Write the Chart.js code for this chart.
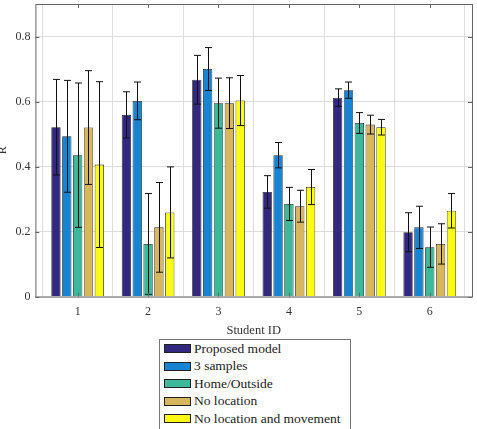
<!DOCTYPE html>
<html>
<head>
<meta charset="utf-8">
<script src="https://cdn.jsdelivr.net/npm/chart.js@4.4.0/dist/chart.umd.min.js"></script>
<style>
body { margin: 0; background: #fff; }
#wrap { position: relative; width: 477px; height: 429px; overflow: hidden; }
#legend {
    position: absolute; left: 159px; top: 339px; width: 190px; height: 100px;
    border: 1px solid #777; background: #fff;
    font-family: "Liberation Serif", serif; font-size: 13.5px; color: #222;
}
#legend div { height: 17.4px; line-height: 17.4px; white-space: nowrap; }
#legend span.sw {
    display: inline-block; width: 25px; height: 7px; border: 1px solid #222;
    margin: 0 3px 0 4px; vertical-align: middle; position: relative; top: -1px;
}
</style>
</head>
<body>
<div id="wrap">
<canvas id="myChart" width="477" height="429"></canvas>
<div id="legend"></div>
</div>
<script>
var studentIds = [1, 2, 3, 4, 5, 6];
var seriesNames = ['Proposed model', '3 samples', 'Home/Outside', 'No location', 'No location and movement'];
var colors = ['#33287f', '#1683d3', '#3bb99a', '#d8b65c', '#fafa12'];

var proposed    = [0.521, 0.559, 0.667, 0.322, 0.612, 0.198];
var threeSample = [0.493, 0.602, 0.700, 0.435, 0.635, 0.213];
var homeOutside = [0.435, 0.162, 0.595, 0.285, 0.534, 0.152];
var noLocation  = [0.520, 0.213, 0.595, 0.278, 0.529, 0.162];
var noLocMove   = [0.406, 0.259, 0.603, 0.337, 0.521, 0.264];

var errProposed    = [0.147, 0.071, 0.075, 0.050, 0.027, 0.060];
var errThreeSample = [0.172, 0.058, 0.066, 0.039, 0.025, 0.065];
var errHomeOutside = [0.222, 0.155, 0.077, 0.051, 0.032, 0.062];
var errNoLocation  = [0.175, 0.138, 0.078, 0.049, 0.029, 0.062];
var errNoLocMove   = [0.255, 0.140, 0.077, 0.054, 0.024, 0.053];

var yTicks = [0, 0.2, 0.4, 0.6, 0.8];

var values = [proposed, threeSample, homeOutside, noLocation, noLocMove];
var errors = [errProposed, errThreeSample, errHomeOutside, errNoLocation, errNoLocMove];

var FONT = '"Liberation Serif", serif';

var datasets = values.map(function (vals, i) {
    return {
        label: seriesNames[i],
        data: vals.map(function (v, j) { return { x: studentIds[j], y: v }; }),
        errors: errors[i],
        backgroundColor: colors[i],
        borderColor: '#222',
        borderWidth: 0.8,
        categoryPercentage: 0.77,
        barPercentage: 0.86
    };
});

// error bars, drawn from the bar elements and the y scale
var errorBars = {
    id: 'errorBars',
    afterDatasetsDraw: function (chart) {
        var ctx = chart.ctx;
        var yScale = chart.scales.y;
        ctx.save();
        ctx.strokeStyle = '#111';
        ctx.lineWidth = 1;
        chart.data.datasets.forEach(function (ds, i) {
            var meta = chart.getDatasetMeta(i);
            meta.data.forEach(function (bar, j) {
                var v = ds.data[j].y, e = ds.errors[j];
                var top = yScale.getPixelForValue(v + e);
                var bot = yScale.getPixelForValue(Math.max(v - e, 0));
                var x = Math.round(bar.x) + 0.5;
                ctx.beginPath();
                ctx.moveTo(x, top); ctx.lineTo(x, bot);
                ctx.moveTo(x - 3.5, top); ctx.lineTo(x + 3.5, top);
                ctx.moveTo(x - 3.5, bot); ctx.lineTo(x + 3.5, bot);
                ctx.stroke();
            });
        });
        ctx.restore();
    }
};

// box around the axes with small inward ticks
var axesBox = {
    id: 'axesBox',
    afterDraw: function (chart) {
        var a = chart.chartArea, ctx = chart.ctx;
        var xs = chart.scales.x, ys = chart.scales.y;
        ctx.save();
        ctx.strokeStyle = '#666';
        ctx.lineWidth = 1;
        ctx.strokeRect(a.left + 0.5, a.top + 0.5, a.right - a.left, a.bottom - a.top);
        ctx.beginPath();
        yTicks.forEach(function (v) {
            var y = Math.round(ys.getPixelForValue(v)) + 0.5;
            ctx.moveTo(a.left, y); ctx.lineTo(a.left + 4, y);
            ctx.moveTo(a.right, y); ctx.lineTo(a.right - 4, y);
        });
        studentIds.forEach(function (v) {
            var x = Math.round(xs.getPixelForValue(v)) + 0.5;
            ctx.moveTo(x, a.bottom); ctx.lineTo(x, a.bottom - 4);
            ctx.moveTo(x, a.top); ctx.lineTo(x, a.top + 4);
        });
        ctx.stroke();
        ctx.restore();
    }
};

var ctx1 = document.getElementById('myChart').getContext('2d');
var myChart = new Chart(ctx1, {
    type: 'bar',
    data: { datasets: datasets },
    options: {
        responsive: false,
        animation: false,
        layout: { padding: { left: -4, top: 4, right: 5, bottom: 91 } },
        plugins: {
            legend: { display: false },
            tooltip: { enabled: false }
        },
        scales: {
            x: {
                type: 'linear',
                min: 0.4,
                max: 6.6,
                offset: false,
                afterBuildTicks: function (axis) {
                    axis.ticks = studentIds.map(function (v) { return { value: v }; });
                },
                grid: { color: '#dcdcdc', drawTicks: false },
                border: { display: false },
                ticks: { font: { family: FONT, size: 12 }, color: '#333', padding: 8 },
                title: { display: true, text: 'Student ID', font: { family: FONT, size: 12.5 }, color: '#333', padding: { top: -4, bottom: 0 } }
            },
            y: {
                min: 0,
                max: 0.9,
                afterBuildTicks: function (axis) {
                    axis.ticks = yTicks.map(function (v) { return { value: v }; });
                },
                afterFit: function (axis) {
                    axis.paddingTop = 0;
                    axis.paddingBottom = 0;
                },
                grid: { color: '#dcdcdc', drawTicks: false },
                border: { display: false },
                ticks: { font: { family: FONT, size: 12 }, color: '#333', padding: 5 },
                title: { display: true, text: 'R', font: { family: FONT, size: 12 }, color: '#333', padding: 0 }
            }
        }
    },
    plugins: [errorBars, axesBox]
});

var legend = document.getElementById('legend');
seriesNames.forEach(function (name, i) {
    var row = document.createElement('div');
    var sw = document.createElement('span');
    sw.className = 'sw';
    sw.style.background = colors[i];
    row.appendChild(sw);
    row.appendChild(document.createTextNode(name));
    legend.appendChild(row);
});
</script>
</body>
</html>
